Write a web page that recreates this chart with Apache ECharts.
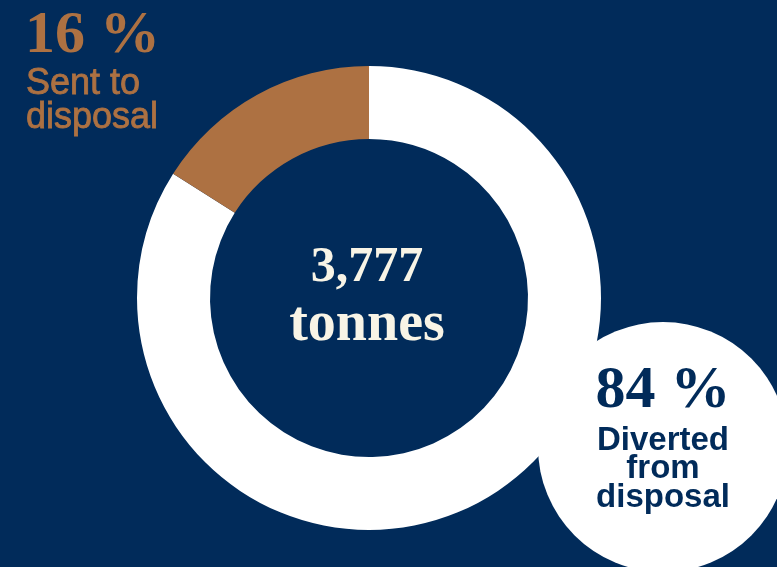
<!DOCTYPE html>
<html>
<head>
<meta charset="utf-8">
<script src="https://cdn.jsdelivr.net/npm/echarts@6/dist/echarts.min.js"></script>
<style>
  html, body { margin: 0; padding: 0; background: #012b5a; }
  #chart { width: 777px; height: 567px; }
</style>
</head>
<body>
<div id="chart"></div>
<script>
// Waste outcome split (percent of total tonnage)
const categories = ['Diverted from disposal', 'Sent to disposal'];
const shares = [84, 16];
const totalTonnes = 3777;
const unitLabel = 'tonnes';
// Caption lines shown under each percentage
const divertedLines = ['Diverted', 'from', 'disposal'];
const disposalLines = ['Sent to', 'disposal'];

const NAVY = '#012b5a';
const BROWN = '#ad7142';
const WHITE = '#ffffff';
const CREAM = '#f8f4e6';
const SERIF = '"Liberation Serif", "DejaVu Serif", serif';
const SANS = '"Liberation Sans", Arial, sans-serif';

const chart = echarts.init(document.getElementById('chart'), null, { renderer: 'canvas' });

// Single-line text element; an optional same-colour outline adds a little weight
function textEl(text, x, y, size, weight, family, color, align, outline) {
  const style = {
    text: text,
    x: x,
    y: y,
    fill: color,
    font: weight + ' ' + size + 'px ' + family,
    align: align,
    verticalAlign: 'middle',
    textAlign: align,
    textVerticalAlign: 'middle'
  };
  if (outline) {
    style.stroke = color;
    style.lineWidth = outline;
  }
  return { type: 'text', z: 120, silent: true, style: style };
}

const graphics = [
  // callout disc for the diverted share
  {
    type: 'circle',
    z: 100,
    silent: true,
    shape: { cx: 663, cy: 447, r: 125 },
    style: { fill: WHITE }
  },
  textEl(shares[1] + ' %', 25, 36, 60, 'bold', SERIF, BROWN, 'left'),
  textEl(disposalLines[0], 26, 84, 36, 'normal', SANS, BROWN, 'left', 0.8),
  textEl(disposalLines[1], 26, 118, 36, 'normal', SANS, BROWN, 'left', 0.8),
  textEl(totalTonnes.toLocaleString('en-US'), 367, 268, 50, 'bold', SERIF, CREAM, 'center'),
  textEl(unitLabel, 367, 326, 56, 'bold', SERIF, CREAM, 'center'),
  textEl(shares[0] + ' %', 663, 391, 60, 'bold', SERIF, NAVY, 'center'),
  textEl(divertedLines[0], 663, 441, 33, 'bold', SANS, NAVY, 'center'),
  textEl(divertedLines[1], 663, 469, 33, 'bold', SANS, NAVY, 'center'),
  textEl(divertedLines[2], 663, 498, 33, 'bold', SANS, NAVY, 'center')
];

chart.setOption({
  backgroundColor: NAVY,
  animation: false,
  series: [{
    type: 'pie',
    center: [369, 298],
    radius: [159, 232],
    startAngle: 90,
    clockwise: true,
    silent: true,
    label: { show: false },
    labelLine: { show: false },
    emphasis: { disabled: true },
    itemStyle: { borderWidth: 0 },
    data: categories.map((name, i) => ({
      name: name,
      value: shares[i],
      itemStyle: { color: i === 0 ? WHITE : BROWN }
    }))
  }],
  graphic: graphics
});
</script>
</body>
</html>
